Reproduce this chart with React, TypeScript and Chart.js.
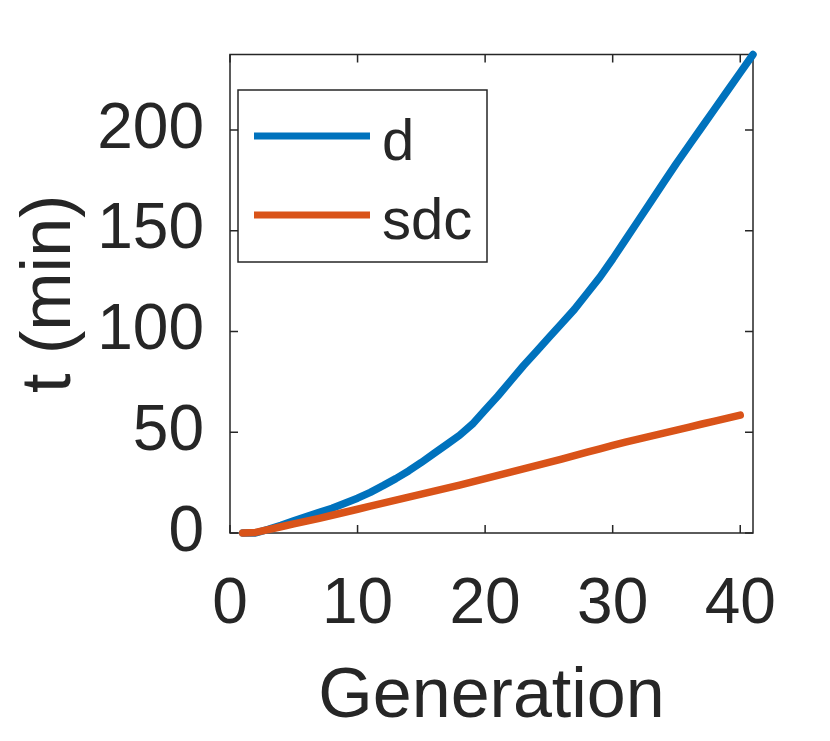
import { useEffect, useRef } from "react";
import { Chart, registerables } from "chart.js";

Chart.register(...registerables);

const generations = [1, 2, 3, 4, 5, 6, 7, 8, 9, 10, 11, 12, 13, 14, 15, 16, 17, 18, 19, 20, 21, 22, 23, 24, 25, 26, 27, 28, 29, 30, 31, 32, 33, 34, 35, 36, 37, 38, 39, 40, 41];
const dTimes = [0, 0, 1.8, 3.8, 6, 8.2, 10.3, 12.3, 14.8, 17.3, 20.2, 23.5, 27, 30.8, 35, 39.5, 44, 48.5, 54, 61, 68, 75.5, 83, 90, 97, 104, 111, 119, 127, 136, 145.5, 155, 164.5, 174, 183.5, 192.5, 201.5, 210.5, 219.5, 228.5, 237.5];
const sdcTimes = [0, 0.3, 1.7, 3.1, 4.5, 5.9, 7.3, 8.8, 10.3, 11.8, 13.3, 14.8, 16.3, 17.8, 19.3, 20.8, 22.3, 23.8, 25.4, 27, 28.6, 30.2, 31.8, 33.4, 35, 36.7, 38.4, 40.1, 41.8, 43.5, 45.1, 46.6, 48.1, 49.6, 51.1, 52.6, 54.1, 55.5, 57, 58.5];
const seriesLabels = ["d", "sdc"];
const seriesColors = ["#0072BD", "#D95319"];
const xTicks = [0, 10, 20, 30, 40];
const yTicks = [0, 50, 100, 150, 200];
const xLimits = [0, 41];
const xTitle = "Generation";
const yTitle = "t (min)";

const TEXT = "#262626";
const FONT = "'Liberation Sans', Arial, Helvetica, sans-serif";

const framePlugin = {
  id: "matlabFrame",
  beforeDatasetsDraw(chart: any) {
    const { ctx, chartArea: a, scales } = chart;
    ctx.save();
    ctx.strokeStyle = TEXT;
    ctx.lineWidth = 1.5;
    ctx.strokeRect(a.left, a.top, a.right - a.left, a.bottom - a.top);
    const tl = 8;
    ctx.beginPath();
    scales.x.ticks.forEach((t: any) => {
      const px = scales.x.getPixelForValue(t.value);
      ctx.moveTo(px, a.bottom);
      ctx.lineTo(px, a.bottom - tl);
      ctx.moveTo(px, a.top);
      ctx.lineTo(px, a.top + tl);
    });
    scales.y.ticks.forEach((t: any) => {
      const py = scales.y.getPixelForValue(t.value);
      ctx.moveTo(a.left, py);
      ctx.lineTo(a.left + tl, py);
      ctx.moveTo(a.right, py);
      ctx.lineTo(a.right - tl, py);
    });
    ctx.stroke();
    ctx.restore();
  },
};

const legendPlugin = {
  id: "matlabLegend",
  afterDatasetsDraw(chart: any) {
    const { ctx, chartArea: a } = chart;
    const bx = a.left + 8;
    const by = a.top + 35.5;
    const bw = 249;
    const bh = 172;
    ctx.save();
    ctx.fillStyle = "#ffffff";
    ctx.fillRect(bx, by, bw, bh);
    ctx.strokeStyle = TEXT;
    ctx.lineWidth = 1.5;
    ctx.strokeRect(bx, by, bw, bh);
    chart.data.datasets.forEach((ds: any, i: number) => {
      const ly = by + 46 + i * 79;
      ctx.strokeStyle = ds.borderColor;
      ctx.lineWidth = 7;
      ctx.lineCap = "butt";
      ctx.beginPath();
      ctx.moveTo(bx + 16, ly);
      ctx.lineTo(bx + 132, ly);
      ctx.stroke();
      ctx.fillStyle = TEXT;
      ctx.font = `58px ${FONT}`;
      ctx.textAlign = "left";
      ctx.textBaseline = "alphabetic";
      ctx.fillText(ds.label, bx + 144, ly + 23.5);
    });
    ctx.restore();
  },
};

export default function App() {
  const ref = useRef<HTMLCanvasElement | null>(null);

  useEffect(() => {
    if (!ref.current) return;
    const chart = new Chart(ref.current, {
      type: "line",
      data: {
        datasets: [
          {
            label: seriesLabels[0],
            data: dTimes.map((v, i) => ({ x: generations[i], y: v })),
            borderColor: seriesColors[0],
            backgroundColor: seriesColors[0],
            borderWidth: 7.5,
            borderCapStyle: "round",
            borderJoinStyle: "round",
            pointRadius: 0,
            tension: 0,
            clip: false as any,
            order: 1,
          },
          {
            label: seriesLabels[1],
            data: sdcTimes.map((v, i) => ({ x: generations[i], y: v })),
            borderColor: seriesColors[1],
            backgroundColor: seriesColors[1],
            borderWidth: 7.5,
            borderCapStyle: "round",
            borderJoinStyle: "round",
            pointRadius: 0,
            tension: 0,
            clip: false as any,
            order: 0,
          },
        ],
      },
      options: {
        responsive: false,
        animation: false,
        events: [],
        layout: { padding: { left: 0, top: 54.5, right: 77, bottom: 0 } },
        plugins: {
          legend: { display: false },
          tooltip: { enabled: false },
        },
        scales: {
          x: {
            type: "linear",
            min: xLimits[0],
            max: xLimits[1],
            grid: { display: false },
            border: { display: false },
            ticks: {
              color: TEXT,
              font: { family: FONT, size: 64 },
              padding: 26,
              maxRotation: 0,
              autoSkip: false,
            },
            afterBuildTicks: (s: any) => {
              s.ticks = xTicks.map((v) => ({ value: v }));
            },
            afterFit: (s: any) => {
              s.height = 208;
              s.paddingLeft = 0;
              s.paddingRight = 0;
            },
            title: {
              display: true,
              text: xTitle,
              color: TEXT,
              font: { family: FONT, size: 70 },
              padding: { top: 0, bottom: 1 },
            },
          },
          y: {
            type: "linear",
            min: 0,
            max: dTimes[dTimes.length - 1],
            grid: { display: false },
            border: { display: false },
            ticks: {
              color: TEXT,
              font: { family: FONT, size: 64 },
              padding: 18,
              autoSkip: false,
            },
            afterBuildTicks: (s: any) => {
              s.ticks = yTicks.map((v) => ({ value: v }));
            },
            afterFit: (s: any) => {
              s.width = 230;
              s.paddingTop = 0;
              s.paddingBottom = 0;
            },
            title: {
              display: true,
              text: yTitle,
              color: TEXT,
              font: { family: FONT, size: 70 },
              padding: { top: 9, bottom: 0 },
            },
          },
        },
      },
      plugins: [framePlugin, legendPlugin],
    });
    return () => chart.destroy();
  }, []);

  return (
    <div style={{ position: "absolute", left: 0, top: 0, width: 830, height: 741, background: "#fff" }}>
      <canvas ref={ref} width={830} height={741} style={{ display: "block" }} />
    </div>
  );
}
